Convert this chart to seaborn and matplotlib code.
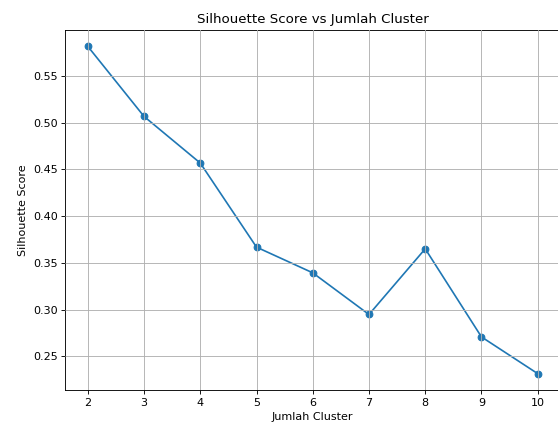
import matplotlib
matplotlib.use("Agg")
import matplotlib.pyplot as plt
import seaborn as sns
import pandas as pd

# Silhouette score for each candidate number of clusters
n_clusters = [2, 3, 4, 5, 6, 7, 8, 9, 10]
silhouette = [0.5817, 0.5067, 0.4568, 0.3668, 0.3393, 0.2947, 0.3650, 0.2707, 0.2314]

df = pd.DataFrame({"k": n_clusters, "score": silhouette})

plt.rcParams.update(plt.rcParamsDefault)
plt.rcParams["font.family"] = ["DejaVu Sans"]

W, H, DPI = 558, 423, 80
fig = plt.figure(figsize=(W / DPI, H / DPI), dpi=DPI)
left, right, top, bottom = 65.3, 560.2, 30.0, 390.0
ax = fig.add_axes([left / W, 1 - bottom / H, (right - left) / W, (bottom - top) / H])

color = "#1f77b4"
sns.lineplot(data=df, x="k", y="score", ax=ax, color=color, marker="o",
             markersize=6, markeredgecolor=color, markeredgewidth=1,
             linewidth=1.5)

ax.set_title("Silhouette Score vs Jumlah Cluster", fontsize=12)
ax.set_xlabel("Jumlah Cluster", fontsize=10)
ax.set_ylabel("Silhouette Score", fontsize=10)
ax.set_xticks(n_clusters)
ax.grid(True, color="#b0b0b0", linewidth=0.8)
ax.set_axisbelow(False)

fig.savefig("out.png", dpi=DPI)
